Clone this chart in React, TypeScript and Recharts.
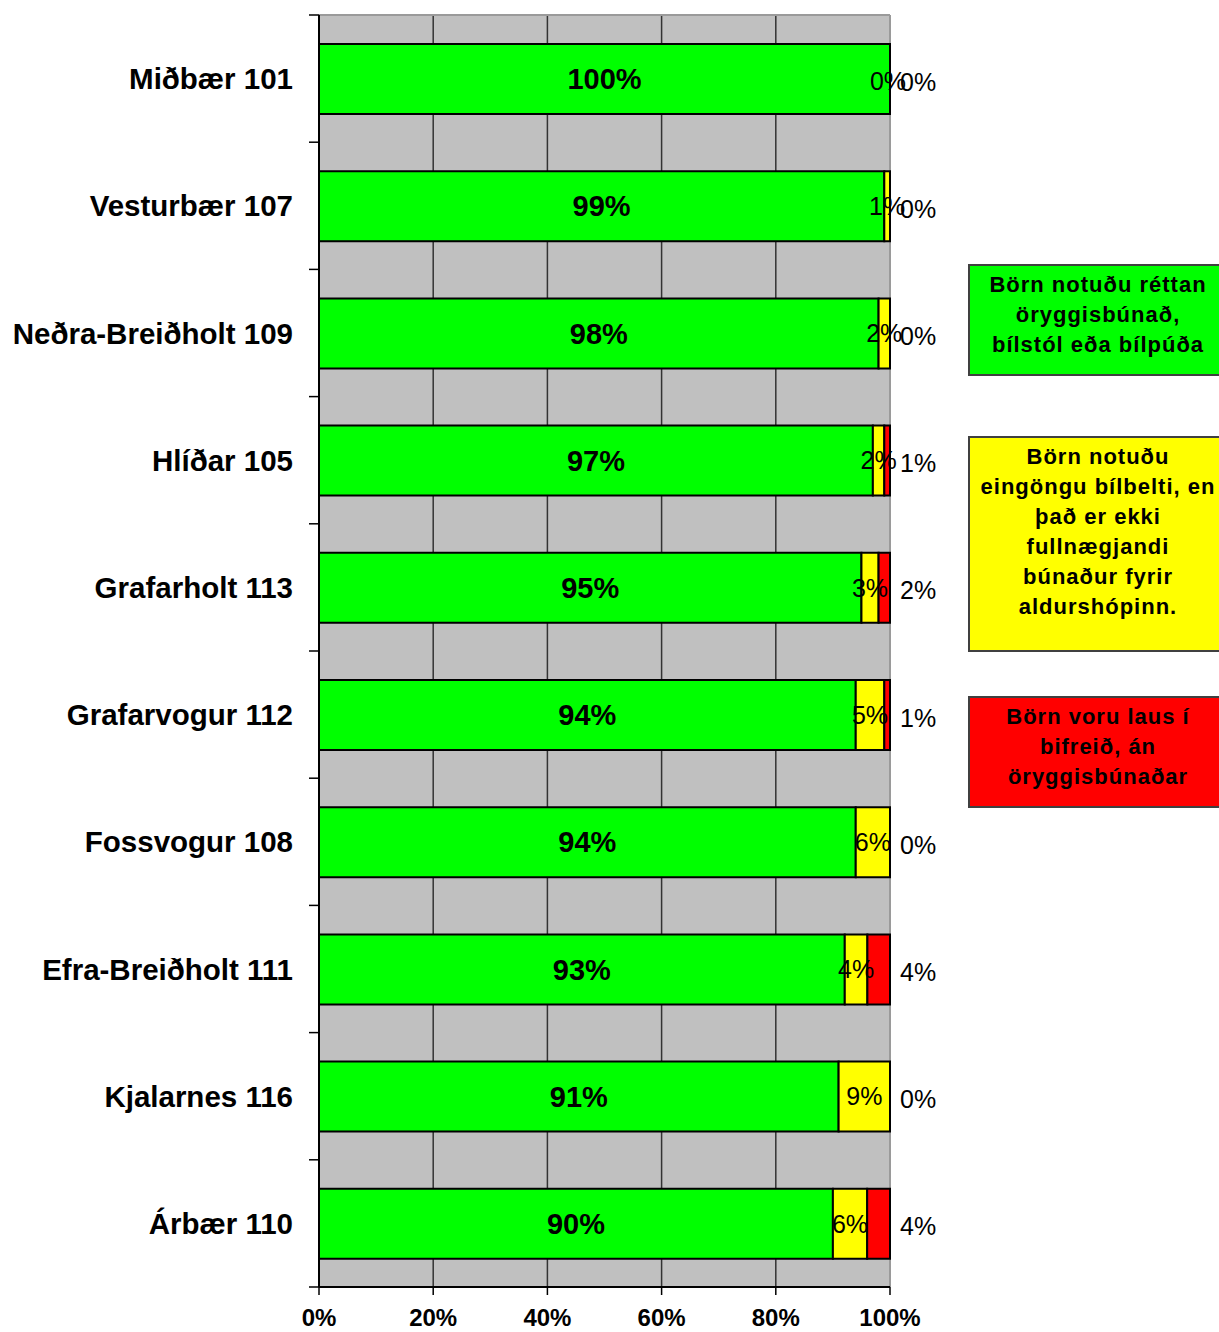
import { BarChart, Bar, XAxis, YAxis, CartesianGrid, Legend, LabelList } from 'recharts';

const districts = [
  'Miðbær 101',
  'Vesturbær 107',
  'Neðra-Breiðholt 109',
  'Hlíðar 105',
  'Grafarholt 113',
  'Grafarvogur 112',
  'Fossvogur 108',
  'Efra-Breiðholt 111',
  'Kjalarnes 116',
  'Árbær 110',
];

// percent of children in each group
const correctGear = [100, 99, 98, 97, 95, 94, 94, 93, 91, 90];
const beltOnly = [0, 1, 2, 2, 3, 5, 6, 4, 9, 6];
const noGear = [0, 0, 0, 1, 2, 1, 0, 4, 0, 4];

const seriesNames = [
  'Börn notuðu réttan\nöryggisbúnað,\nbílstól eða bílpúða',
  'Börn notuðu\neingöngu bílbelti, en\nþað er ekki\nfullnægjandi\nbúnaður fyrir\naldurshópinn.',
  'Börn voru laus í\nbifreið, án\nöryggisbúnaðar',
];

const xTicks = [0, 0.2, 0.4, 0.6, 0.8, 1];

const chartData = districts.map((name, i) => ({
  name,
  green: correctGear[i],
  yellow: beltOnly[i],
  red: noGear[i],
}));

const font = '"Liberation Sans", Arial, sans-serif';

function DistrictTick(props: any) {
  const { x, y, payload, index } = props;
  const half = payload?.offset ?? 0;
  const isLast = index === districts.length - 1;
  return (
    <g>
      <line x1={x - 10} x2={x} y1={y - half} y2={y - half} stroke="#000" strokeWidth={1.5} />
      {isLast && <line x1={x - 10} x2={x} y1={y + half} y2={y + half} stroke="#000" strokeWidth={1.5} />}
      <text
        x={x - 26}
        y={y}
        textAnchor="end"
        dominantBaseline="central"
        fontSize={29.5}
        fontWeight="bold"
        fill="#000"
        fontFamily={font}
      >
        {payload.value}
      </text>
    </g>
  );
}

// right-hand labels: the red share sits just outside the bar end,
// and an empty yellow share is labelled on the bar end itself
function ShareTick(props: any) {
  const { x, y, index } = props;
  return (
    <g fontFamily={font} fontSize={25} fill="#000">
      {beltOnly[index] === 0 && (
        <text x={x - 2} y={y + 2} textAnchor="middle" dominantBaseline="central">
          {`${beltOnly[index]}%`}
        </text>
      )}
      <text x={x + 10} y={y + 3} textAnchor="start" dominantBaseline="central">
        {`${noGear[index]}%`}
      </text>
    </g>
  );
}

const boxHeights = [112, 216, 112];
const boxGaps = [0, 60, 44];

function LegendBoxes(props: any) {
  const items = [...(props.payload || [])].sort(
    (a: any, b: any) => seriesNames.indexOf(a.value) - seriesNames.indexOf(b.value)
  );
  return (
    <div>
      {items.map((entry: any, i: number) => (
        <div
          key={i}
          style={{
            marginTop: boxGaps[i],
            height: boxHeights[i],
            boxSizing: 'border-box',
            background: entry.color,
            border: '2px solid #404040',
            borderRight: 'none',
            paddingTop: 4,
            paddingLeft: 7,
            textAlign: 'center',
            fontFamily: font,
            fontSize: 22,
            fontWeight: 'bold',
            lineHeight: '30px',
            letterSpacing: 1,
            whiteSpace: 'pre-line',
            color: '#000',
          }}
        >
          {entry.value}
        </div>
      ))}
    </div>
  );
}

const pct = (v: any) => (Number(v) === 0 ? '' : `${v}%`);

export default function App() {
  return (
    <div style={{ position: 'absolute', left: 0, top: 0, width: 1219, height: 1332, background: '#fff' }}>
      <BarChart
        width={1219}
        height={1332}
        data={chartData}
        layout="vertical"
        stackOffset="expand"
        margin={{ top: 15, right: 269, bottom: 0, left: 0 }}
        style={{ fontFamily: font }}
      >
        <CartesianGrid horizontal={false} fill="#C0C0C0" fillOpacity={1} stroke="#333" strokeWidth={1.5} />
        <CartesianGrid
          fill="none"
          stroke="#9A9A9A"
          strokeWidth={2}
          horizontalCoordinatesGenerator={({ offset }: any) => [offset.top]}
          verticalCoordinatesGenerator={({ offset }: any) => [offset.left + offset.width]}
        />
        <XAxis
          type="number"
          domain={[0, 1]}
          ticks={xTicks}
          interval={0}
          tickFormatter={(v: number) => `${Math.round(v * 100)}%`}
          axisLine={{ stroke: '#000', strokeWidth: 2 }}
          tickLine={{ stroke: '#000', strokeWidth: 1.5 }}
          tickSize={8}
          tickMargin={14}
          height={45}
          tick={{ fontSize: 24, fontWeight: 'bold', fill: '#000', fontFamily: font }}
        />
        <YAxis
          type="category"
          dataKey="name"
          width={319}
          interval={0}
          tickSize={0}
          tickMargin={0}
          tickLine={false}
          axisLine={{ stroke: '#000', strokeWidth: 2 }}
          tick={<DistrictTick />}
        />
        <YAxis
          yAxisId="share"
          orientation="right"
          type="category"
          dataKey="name"
          width={60}
          interval={0}
          tickSize={0}
          tickMargin={0}
          tickLine={false}
          axisLine={false}
          tick={<ShareTick />}
        />
        <Legend
          layout="horizontal"
          verticalAlign="middle"
          align="center"
          itemSorter={(item: any) => seriesNames.indexOf(item.value)}
          content={<LegendBoxes />}
          wrapperStyle={{ left: 968, top: 264, width: 251 }}
        />
        <Bar dataKey="green" name={seriesNames[0]} stackId="a" fill="#00FF00" stroke="#000" strokeWidth={2} barSize={70} isAnimationActive={false}>
          <LabelList
            dataKey="green"
            position="center"
            formatter={pct}
            fill="#000"
            fontSize={29}
            fontWeight="bold"
            fontFamily={font}
          />
        </Bar>
        <Bar dataKey="yellow" name={seriesNames[1]} stackId="a" fill="#FFFF00" stroke="#000" strokeWidth={2} barSize={70} isAnimationActive={false}>
          <LabelList
            dataKey="yellow"
            position="center"
            formatter={pct}
            fill="#000"
            fontSize={25}
            fontFamily={font}
          />
        </Bar>
        <Bar dataKey="red" name={seriesNames[2]} stackId="a" fill="#FF0000" stroke="#000" strokeWidth={2} barSize={70} isAnimationActive={false} />
      </BarChart>
    </div>
  );
}
